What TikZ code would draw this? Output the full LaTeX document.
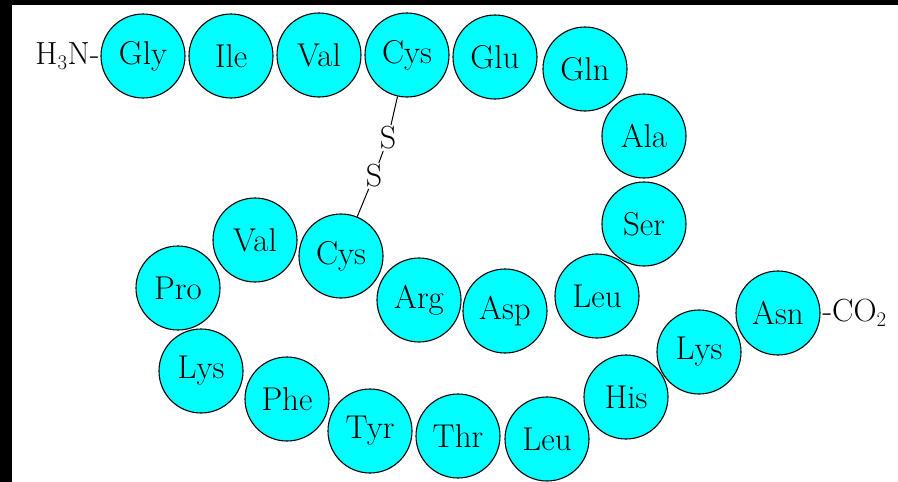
\documentclass[tikz,border=0pt]{standalone}
\usepackage{fontspec}
\usepackage{xcolor}
\usepackage{tikz}
\definecolor{aqua}{RGB}{0,255,255}

\begin{document}
\begin{tikzpicture}[x=1pt,y=-1pt,
	aa/.style={circle, draw, fill=aqua, line width=1.1pt, minimum size=84pt, inner sep=0pt, font=\fontsize{33}{36}\selectfont},
	lbl/.style={inner sep=1pt, font=\fontsize{32}{35}\selectfont}]
		\useasboundingbox (0,0) rectangle (898,482);
		\fill[black] (0,0) rectangle (898,5);
		\fill[black] (0,0) rectangle (12,482);
		\draw[line width=1pt]
		node[lbl, anchor=east] at (101,56) (nterm) {H$_3$N-}
		node[aa] at (143,56) (gly) {Gly}
		node[aa] at (231,56) (ile) {Ile}
		node[aa] at (319,55) (vala) {Val}
		node[aa] at (407,55) (cysa) {Cys}
		node[aa] at (495,57) (glu) {Glu}
		node[aa] at (585,69) (gln) {Gln}
		node[aa] at (644,136) (ala) {Ala}
		node[aa] at (644,224) (ser) {Ser}
		node[aa] at (597,296) (leua) {Leu}
		node[aa] at (505,311) (asp) {Asp}
		node[aa] at (419,300) (arg) {Arg}
		node[aa] at (341,256) (cysb) {Cys}
		node[aa] at (255,240) (valb) {Val}
		node[aa] at (178,288) (pro) {Pro}
		node[aa] at (201,371) (lysa) {Lys}
		node[aa] at (287,399) (phe) {Phe}
		node[aa] at (370,431) (tyr) {Tyr}
		node[aa] at (458,436) (thr) {Thr}
		node[aa] at (547,439) (leub) {Leu}
		node[aa] at (626,397) (his) {His}
		node[aa] at (699,352) (lysb) {Lys}
		node[aa] at (778,313) (asn) {Asn}
		node[lbl, anchor=west] at (821,313) (cterm) {-CO$_2$}
		node[lbl] at (388,138) (sa) {S}
		node[lbl] at (374,176) (sb) {S}
		(cysa) -- (sa)
		(sa) -- (sb)
		(sb) -- (cysb);
	\end{tikzpicture}
\end{document}
